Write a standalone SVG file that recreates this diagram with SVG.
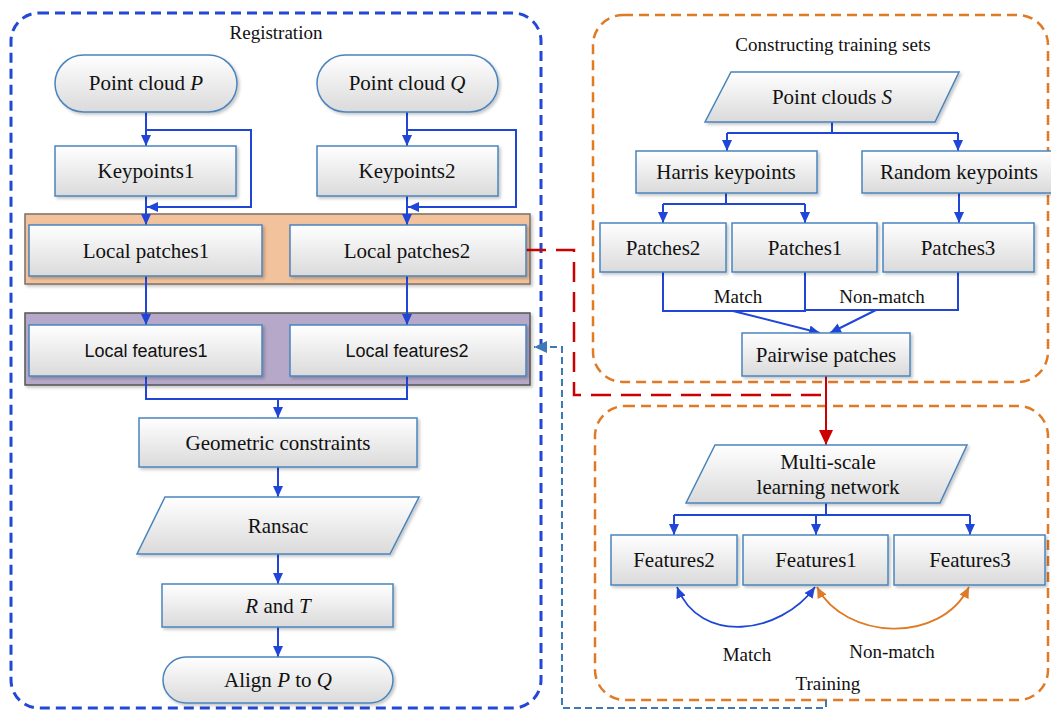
<svg xmlns="http://www.w3.org/2000/svg" width="1051" height="710" viewBox="0 0 1051 710">
<style>
.node{fill:url(#g);stroke:#4a84bd;stroke-width:1.5;filter:url(#sh)}
.nt{font-family:"Liberation Serif","Times New Roman",Times,serif;font-size:21px;fill:#111;text-anchor:middle}
.ts{font-family:"Liberation Sans",Arial,sans-serif;font-size:18px;fill:#111;text-anchor:middle}
.tl{font-family:"Liberation Serif","Times New Roman",Times,serif;font-size:19px;fill:#111;text-anchor:middle}
.c{fill:none;stroke:#2046d8;stroke-width:2}
.ca{fill:none;stroke:#2046d8;stroke-width:2;marker-end:url(#ab)}
</style>
<defs>
<linearGradient id="g" x1="0" y1="0" x2="0" y2="1">
<stop offset="0" stop-color="#ffffff"/>
<stop offset="1" stop-color="#dadada"/>
</linearGradient>
<filter id="sh" x="-10%" y="-10%" width="130%" height="140%">
<feDropShadow dx="2" dy="2" stdDeviation="1.5" flood-color="#000" flood-opacity="0.22"/>
</filter>
<marker id="ab" markerUnits="userSpaceOnUse" markerWidth="12" markerHeight="12" refX="11" refY="6" orient="auto-start-reverse">
<path d="M0,1 L11,6 L0,11 Z" fill="#2046d8"/>
</marker>
<marker id="ao" markerUnits="userSpaceOnUse" markerWidth="12" markerHeight="12" refX="11" refY="6" orient="auto-start-reverse">
<path d="M0,1 L11,6 L0,11 Z" fill="#e07a24"/>
</marker>
<marker id="ar" markerUnits="userSpaceOnUse" markerWidth="16" markerHeight="16" refX="15" refY="8" orient="auto">
<path d="M0,1 L15,8 L0,15 Z" fill="#cc0000"/>
</marker>
<marker id="as" markerUnits="userSpaceOnUse" markerWidth="14" markerHeight="14" refX="13" refY="7" orient="auto">
<path d="M0,1 L13,7 L0,13 Z" fill="#3d79b6"/>
</marker>
</defs>
<rect width="1051" height="710" fill="#ffffff"/>

<g id="registration">
<rect x="11" y="13" width="530" height="695" rx="28" fill="none" stroke="#2347d6" stroke-width="3" stroke-dasharray="10,6"/>
<text class="tl" x="276" y="39">Registration</text>
</g>
<g id="constructing">
<rect x="593" y="15" width="455" height="367" rx="30" fill="none" stroke="#e07a24" stroke-width="2.5" stroke-dasharray="10,6"/>
<text class="tl" x="833" y="51">Constructing training sets</text>
</g>
<g id="training">
<rect x="595" y="406" width="453" height="294" rx="30" fill="none" stroke="#e07a24" stroke-width="2.5" stroke-dasharray="10,6"/>
<text class="tl" x="828" y="690">Training</text>
</g>

<g id="band-patches">
<rect x="25" y="214" width="505" height="70" fill="#f1c29c" stroke="#7d6f64" stroke-width="1.5" filter="url(#sh)"/>
</g>
<g id="band-features">
<rect x="25" y="313" width="505" height="72" fill="#b5a8c9" stroke="#555" stroke-width="1.5" filter="url(#sh)"/>
</g>

<g id="connectors">
<path class="ca" d="M146,112 V146"/>
<path class="ca" d="M146,130 H251 V207 H147"/>
<path class="ca" d="M146,196 V225"/>
<path class="ca" d="M407,112 V146"/>
<path class="ca" d="M407,130 H516 V207 H408"/>
<path class="ca" d="M407,196 V225"/>
<path class="ca" d="M146,276 V325"/>
<path class="ca" d="M407,276 V325"/>
<path class="c" d="M146,376 V399 H407 V376"/>
<path class="ca" d="M278,399 V418"/>
<path class="ca" d="M278,467 V497"/>
<path class="ca" d="M278,554 V584"/>
<path class="ca" d="M278,627 V657"/>

<path class="c" d="M832,122 V133 M727,133 H958"/>
<path class="ca" d="M727,133 V151"/>
<path class="ca" d="M958,133 V151"/>
<path class="c" d="M726,193 V204 M663,204 H805"/>
<path class="ca" d="M663,204 V223"/>
<path class="ca" d="M805,204 V223"/>
<path class="ca" d="M959,193 V223"/>
<path class="c" d="M663,272 V311 H805 V272"/>
<path class="c" d="M958,272 V310 H805"/>
<path class="ca" d="M733,311 L820,333"/>
<path class="ca" d="M876,310 L830,333"/>

<path d="M526,250 H574 V395 H826" fill="none" stroke="#cc0000" stroke-width="2.5" stroke-dasharray="20,10"/>
<path d="M826,376 V445" fill="none" stroke="#cc0000" stroke-width="2" marker-end="url(#ar)"/>

<path class="c" d="M826,503 V515 M674,515 H970"/>
<path class="ca" d="M674,515 V535"/>
<path class="ca" d="M816,515 V535"/>
<path class="ca" d="M970,515 V535"/>

<path d="M677,587 C700,645 780,635 815,587" fill="none" stroke="#2046d8" stroke-width="1.8" marker-start="url(#ab)" marker-end="url(#ab)"/>
<path d="M817,587 C845,640 940,645 969,587" fill="none" stroke="#e07a24" stroke-width="1.8" marker-start="url(#ao)" marker-end="url(#ao)"/>

<path d="M826,700 V708 H562 V347 H534" fill="none" stroke="#3d79b6" stroke-width="2" stroke-dasharray="7,4" marker-end="url(#as)"/>

<text class="tl" x="738" y="303">Match</text>
<text class="tl" x="882" y="303">Non-match</text>
<text class="tl" x="747" y="661">Match</text>
<text class="tl" x="892" y="658">Non-match</text>
</g>

<g id="pcP"><rect class="node" x="55" y="55" width="182" height="57" rx="28.5"/><text class="nt" x="146" y="90">Point cloud <tspan font-style="italic">P</tspan></text></g>
<g id="pcQ"><rect class="node" x="317" y="55" width="181" height="57" rx="28.5"/><text class="nt" x="407" y="90">Point cloud <tspan font-style="italic">Q</tspan></text></g>
<g id="kp1"><rect class="node" x="55" y="146" width="181" height="50"/><text class="nt" x="146" y="178">Keypoints1</text></g>
<g id="kp2"><rect class="node" x="317" y="146" width="181" height="50"/><text class="nt" x="407" y="178">Keypoints2</text></g>
<g id="lp1"><rect class="node" x="29" y="225" width="233" height="51"/><text class="nt" x="146" y="258">Local patches1</text></g>
<g id="lp2"><rect class="node" x="290" y="225" width="236" height="51"/><text class="nt" x="407" y="258">Local patches2</text></g>
<g id="lf1"><rect class="node" x="29" y="325" width="233" height="51"/><text class="ts" x="146" y="357">Local features1</text></g>
<g id="lf2"><rect class="node" x="290" y="325" width="236" height="51"/><text class="ts" x="407" y="357">Local features2</text></g>
<g id="geo"><rect class="node" x="139" y="418" width="278" height="49"/><text class="nt" x="278" y="450">Geometric constraints</text></g>
<g id="ransac"><path class="node" d="M165,497 H419 L390,554 H137 Z"/><text class="nt" x="278" y="533">Ransac</text></g>
<g id="rt"><rect class="node" x="162" y="584" width="231" height="43"/><text class="nt" x="278" y="613"><tspan font-style="italic">R</tspan> and <tspan font-style="italic">T</tspan></text></g>
<g id="align"><rect class="node" x="163" y="657" width="230" height="46" rx="23"/><text class="nt" x="278" y="687">Align <tspan font-style="italic">P</tspan> to <tspan font-style="italic">Q</tspan></text></g>

<g id="pcS"><path class="node" d="M731,72 H959 L935,122 H705 Z"/><text class="nt" x="832" y="104">Point clouds <tspan font-style="italic">S</tspan></text></g>
<g id="harris"><rect class="node" x="636" y="151" width="181" height="42"/><text class="nt" x="726" y="179">Harris keypoints</text></g>
<g id="random"><rect class="node" x="862" y="151" width="194" height="42"/><text class="nt" x="959" y="179">Random keypoints</text></g>
<g id="p2"><rect class="node" x="600" y="223" width="126" height="49"/><text class="nt" x="663" y="255">Patches2</text></g>
<g id="p1"><rect class="node" x="732" y="223" width="145" height="49"/><text class="nt" x="805" y="255">Patches1</text></g>
<g id="p3"><rect class="node" x="883" y="223" width="151" height="49"/><text class="nt" x="958" y="255">Patches3</text></g>
<g id="pair"><rect class="node" x="742" y="333" width="168" height="43"/><text class="nt" x="826" y="362">Pairwise patches</text></g>
<g id="msn"><path class="node" d="M715,445 H967 L940,503 H686 Z"/><text class="nt" x="828" y="469">Multi-scale</text><text class="nt" x="828" y="494">learning network</text></g>
<g id="f2"><rect class="node" x="611" y="535" width="126" height="50"/><text class="nt" x="674" y="567">Features2</text></g>
<g id="f1"><rect class="node" x="743" y="535" width="145" height="50"/><text class="nt" x="816" y="567">Features1</text></g>
<g id="f3"><rect class="node" x="894" y="535" width="151" height="50"/><text class="nt" x="970" y="567">Features3</text></g>
</svg>
